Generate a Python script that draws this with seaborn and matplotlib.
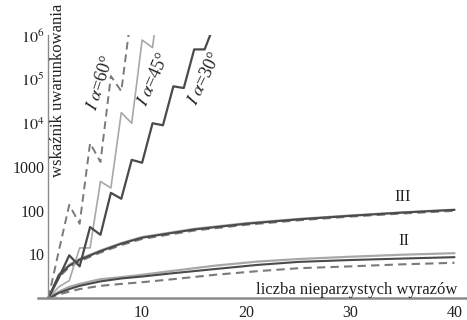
import numpy as np
import pandas as pd
import matplotlib
matplotlib.use("Agg")
import matplotlib.pyplot as plt
import seaborn as sns
from matplotlib.ticker import FixedLocator, NullFormatter

# ---- data ----
x60 = [1, 2, 3, 4, 5, 6, 7, 8, 9]
v60 = [1, 12, 135, 50, 3500, 1300, 120000, 54000, 4000000]

x45 = [1, 2, 3, 4, 5, 6, 7, 8, 9, 10, 11, 12]
v45 = [1, 1.8, 2.5, 14, 14, 465, 330, 17500, 10000, 800000, 540000, 40000000]

x30 = [1, 2, 3, 4, 5, 6, 7, 8, 9, 10, 11, 12, 13, 14, 15, 16, 17]
v30 = [1, 2.9, 9.5, 5.3, 42, 28, 255, 187, 1450, 1250, 10000, 9000,
       70000, 64000, 490000, 490000, 2000000]

xIII = [1, 2, 3, 4, 6, 8, 10, 15, 20, 25, 30, 35, 40]
vIII_dark = [1, 3.3, 5.5, 7.5, 11.8, 17.5, 24, 37, 50, 63, 76, 90, 104]
vIII_light = [1, 3.5, 5.8, 7.9, 12.3, 18.2, 25, 38.5, 52, 65, 78, 92, 106]
vIII_dash = [1, 3.0, 5.1, 7.0, 11.0, 16.3, 22.5, 35, 47.5, 60, 73, 86, 99]

xII = [1, 2, 3, 4, 6, 8, 10, 13, 17, 21, 25, 30, 35, 40]
vII_dark = [1, 1.3, 1.6, 1.9, 2.4, 2.8, 3.1, 3.7, 4.6, 5.7, 6.7, 7.4, 8.0, 8.6]
vII_light = [1, 1.4, 1.8, 2.1, 2.7, 3.0, 3.4, 4.2, 5.5, 6.8, 7.8, 8.8, 9.8, 10.6]
vII_dash = [1, 1.2, 1.4, 1.6, 1.9, 2.1, 2.3, 2.7, 3.4, 4.1, 4.8, 5.3, 5.9, 6.4]

ytick_vals = [10, 100, 1000, 1e4, 1e5, 1e6]
ytick_labels = ["10", "100", "1000", r"$10^4$", r"$10^5$", r"$10^6$"]
xtick_vals = [10, 20, 30, 40]
xtick_labels = ["10", "20", "30", "40"]

# ---- style ----
sns.set_theme(style="white")
plt.rcParams["font.family"] = ["Liberation Serif", "DejaVu Serif"]
plt.rcParams["mathtext.fontset"] = "stix"

W, H = 467, 320
fig = plt.figure(figsize=(W / 100, H / 100), dpi=100)
ax = fig.add_axes([38 / W, (H - 298) / H, (W - 38) / W, (298 - 35) / H])
ax.set_yscale("log")

DARK = "#4a4a4a"
LIGHT = "#a8a8a8"
DASH = "#7a7a7a"
dashes = (4, 2.5)

def draw(x, y, color, lw, dashed=False):
    kw = dict(x=x, y=y, color=color, linewidth=lw, ax=ax, estimator=None,
              sort=False, legend=False)
    line = sns.lineplot(**kw)
    if dashed:
        ax.lines[-1].set_dashes(dashes)

# group III
draw(xIII, vIII_light, LIGHT, 1.4)
draw(xIII, vIII_dash, DASH, 1.5, dashed=True)
draw(xIII, vIII_dark, DARK, 1.5)
# group II
draw(xII, vII_light, LIGHT, 1.6)
draw(xII, vII_dash, DASH, 1.5, dashed=True)
draw(xII, vII_dark, DARK, 1.5)
# group I
draw(x60, v60, DASH, 1.4, dashed=True)
draw(x45, v45, LIGHT, 1.2)
draw(x30, v30, DARK, 1.6)

ax.set_xlim(0, 41.2)
ax.set_ylim(1, 10 ** 6.02)

# Mathematica-like axes crossing at (1, 1)
for s in ["top", "right"]:
    ax.spines[s].set_visible(False)
ax.spines["left"].set_position(("data", 1))
ax.spines["left"].set_color("#8a8a8a")
ax.spines["left"].set_linewidth(1.0)
ax.spines["bottom"].set_color("#8a8a8a")
ax.spines["bottom"].set_linewidth(1.8)

ax.set_yticks(ytick_vals, labels=ytick_labels)
ax.yaxis.set_minor_locator(FixedLocator(
    [m * 10 ** e for e in range(0, 6) for m in range(2, 10)]))
ax.yaxis.set_minor_formatter(NullFormatter())
ax.set_xticks(xtick_vals, labels=xtick_labels)
ax.xaxis.set_minor_locator(FixedLocator(list(range(2, 41, 2))))

ax.tick_params(axis="both", which="major", direction="in", length=4,
               width=0.8, color="#777777", labelsize=11.5, labelcolor="#222222")
ax.tick_params(axis="both", which="minor", direction="in", length=2,
               width=0.6, color="#777777")
ax.tick_params(axis="y", which="major", pad=3)
ax.tick_params(axis="x", which="major", pad=5)
ax.set_xlabel("")
ax.set_ylabel("")
ax.grid(False)
ax.set_facecolor("white")

def ftext(px, py, s, **kw):
    fig.text(px / W, 1 - py / H, s, **kw)

ftext(58, 90, "wskaźnik uwarunkowania", rotation=90, ha="center", va="center",
      fontsize=12, color="#222222")
ftext(457, 290, "liczba nieparzystych wyrazów", ha="right", va="center",
      fontsize=12, color="#222222")
ftext(403, 197, "III", ha="center", va="center", fontsize=12, color="#222222")
ftext(404, 241, "II", ha="center", va="center", fontsize=12, color="#222222")
ftext(101, 83, r"$I\ \alpha$=60°", rotation=72, ha="center", va="center",
      fontsize=13, color="#222222", rotation_mode="anchor")
ftext(154, 79, r"$I\ \alpha$=45°", rotation=66, ha="center", va="center",
      fontsize=13, color="#222222", rotation_mode="anchor")
ftext(205, 79, r"$I\ \alpha$=30°", rotation=64, ha="center", va="center",
      fontsize=13, color="#222222", rotation_mode="anchor")

fig.savefig("out.png", dpi=100, facecolor="white")
